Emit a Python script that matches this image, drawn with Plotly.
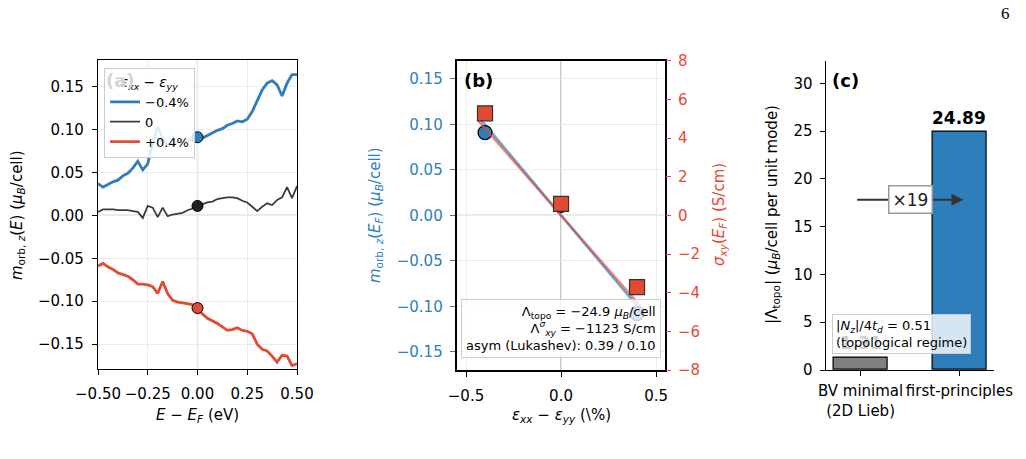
import plotly.graph_objects as go

# ---------------- data ----------------
energy = [-0.500, -0.475, -0.450, -0.425, -0.400, -0.375, -0.350, -0.325, -0.300, -0.275,
          -0.250, -0.225, -0.200, -0.175, -0.150, -0.125, -0.100, -0.075, -0.050, -0.025,
          0.000, 0.025, 0.050, 0.075, 0.100, 0.125, 0.150, 0.175, 0.200, 0.225,
          0.250, 0.275, 0.300, 0.325, 0.350, 0.375, 0.400, 0.425, 0.450, 0.475, 0.500]

m_minus04 = [0.037, 0.033, 0.036, 0.039, 0.041, 0.046, 0.049, 0.055, 0.063, 0.053,
             0.060, 0.084, 0.103, 0.090, 0.082, 0.083, 0.085, 0.086, 0.086, 0.088,
             0.091, 0.090, 0.093, 0.096, 0.099, 0.101, 0.105, 0.107, 0.110, 0.109,
             0.112, 0.121, 0.134, 0.146, 0.154, 0.157, 0.152, 0.139, 0.154, 0.164, 0.164]

m_zero = [0.004, 0.007, 0.007, 0.007, 0.006, 0.006, 0.006, 0.005, 0.004, -0.003,
          0.011, 0.009, -0.002, 0.009, -0.001, 0.001, 0.002, 0.003, 0.006, 0.008,
          0.011, 0.013, 0.015, 0.016, 0.019, 0.020, 0.021, 0.021, 0.020, 0.017,
          0.015, 0.010, 0.005, 0.010, 0.014, 0.012, 0.018, 0.021, 0.033, 0.020, 0.034]

m_plus04 = [-0.059, -0.056, -0.060, -0.063, -0.067, -0.069, -0.071, -0.075, -0.080, -0.080,
            -0.081, -0.083, -0.091, -0.077, -0.091, -0.099, -0.101, -0.102, -0.103, -0.104,
            -0.108, -0.115, -0.120, -0.123, -0.126, -0.130, -0.134, -0.133, -0.131, -0.134,
            -0.135, -0.138, -0.150, -0.156, -0.158, -0.164, -0.171, -0.163, -0.164, -0.175, -0.173]

strain_pct = [-0.4, 0.0, 0.4]
m_at_EF = [0.091, 0.011, -0.108]
sigma_at_EF = [5.28, 0.59, -3.71]
lambda_topo = -24.9      # muB/cell per unit strain
lambda_sigma = -1123.0   # S/cm per unit strain
fit_x = [-0.44, 0.44]

bar_labels = ["BV minimal<br>(2D Lieb)", "first-principles"]
bar_values = [1.31, 24.89]

# ---------------- style ----------------
BLUE = "#2E7EBC"
RED = "#E34A33"
DARK = "#3C3C3C"
FONT = "DejaVu Sans"
FS = 15
W, H = 1026, 459

def dom_x(a, b):
    return [a / W, b / W]

def dom_y(top, bot):
    return [1 - bot / H, 1 - top / H]

fig = go.Figure()

# ---------- panel (a) ----------
for name, vals, col, lw in [("\u22120.4%", m_minus04, BLUE, 2.8),
                            ("0", m_zero, DARK, 1.8),
                            ("+0.4%", m_plus04, RED, 2.8)]:
    fig.add_trace(go.Scatter(x=energy, y=vals, mode="lines", name=name,
                             line=dict(color=col, width=lw), xaxis="x", yaxis="y"))
for vals, col in [(m_minus04, BLUE), (m_zero, "#222222"), (m_plus04, RED)]:
    i0 = energy.index(0.0)
    fig.add_trace(go.Scatter(x=[energy[i0]], y=[vals[i0]], mode="markers", showlegend=False,
                             marker=dict(color=col, size=11, line=dict(color="black", width=1)),
                             xaxis="x", yaxis="y"))

# ---------- panel (b) ----------
fig.add_trace(go.Scatter(x=fit_x, y=[lambda_topo / 100 * v for v in fit_x], mode="lines",
                         line=dict(color="rgba(46,126,188,0.7)", width=2.6), showlegend=False,
                         xaxis="x2", yaxis="y2"))
fig.add_trace(go.Scatter(x=strain_pct, y=m_at_EF, mode="markers", showlegend=False,
                         marker=dict(color=BLUE, size=14, line=dict(color="black", width=1.2)),
                         xaxis="x2", yaxis="y2"))
fig.add_trace(go.Scatter(x=fit_x, y=[lambda_sigma / 100 * v for v in fit_x], mode="lines",
                         line=dict(color="rgba(227,74,51,0.65)", width=2.4), showlegend=False,
                         xaxis="x2", yaxis="y3"))
fig.add_trace(go.Scatter(x=strain_pct, y=sigma_at_EF, mode="markers", showlegend=False,
                         marker=dict(color=RED, size=15, symbol="square",
                                     line=dict(color="#333333", width=1.2)),
                         xaxis="x2", yaxis="y3"))

# ---------- panel (c) ----------
fig.add_trace(go.Bar(x=[0, 1], y=bar_values, width=0.55, showlegend=False,
                     marker=dict(color=["#808080", BLUE], line=dict(color="black", width=1.2)),
                     xaxis="x3", yaxis="y4"))

tickfont = dict(family=FONT, size=FS, color="black")
common = dict(showline=True, linecolor="black", ticks="outside", ticklen=5, tickwidth=1,
              tickcolor="black", zeroline=False, tickfont=tickfont, automargin=False)

xa = dict(domain=dom_x(98, 297), anchor="y", range=[-0.5, 0.5],
          tickvals=[-0.5, -0.25, 0, 0.25, 0.5], tickformat=".2f", ticklabelstandoff=6,
          mirror=True, linewidth=1.3, showgrid=True, gridcolor="#ebebeb", **common)
ya = dict(domain=dom_y(60, 369), anchor="x", range=[-0.179, 0.181],
          tickvals=[-0.15, -0.10, -0.05, 0, 0.05, 0.10, 0.15], tickformat=".2f",
          ticklabelstandoff=5,
          mirror=True, linewidth=1.3, showgrid=True, gridcolor="#ebebeb", **common)

xb = dict(domain=dom_x(456.7, 665), anchor="y2", range=[-0.549, 0.547],
          tickvals=[-0.5, 0, 0.5], tickformat=".1f", ticklabelstandoff=6,
          mirror=True, linewidth=2, showgrid=True, gridcolor="#ebebeb", **common)
common_b = dict(common)
common_b["tickfont"] = dict(family=FONT, size=FS, color=BLUE)
common_b["tickcolor"] = BLUE
yb = dict(domain=dom_y(60.7, 370), anchor="x2", range=[-0.17, 0.17],
          tickvals=[-0.15, -0.10, -0.05, 0, 0.05, 0.10, 0.15], tickformat=".2f",
          ticklabelstandoff=4,
          mirror=True, linewidth=2, showgrid=True, gridcolor="#ebebeb", **common_b)
yb2 = dict(overlaying="y2", side="right", anchor="x2", range=[-8, 8], dtick=2,
           showline=False, showgrid=False, zeroline=False, ticks="outside", ticklen=5,
           tickwidth=1, tickcolor=RED, tickfont=dict(family=FONT, size=FS, color=RED),
           ticklabelstandoff=4, automargin=False)

xc = dict(domain=dom_x(825.7, 994.3), anchor="y4", range=[-0.3525, 1.3525],
          tickvals=[0, 1], ticktext=bar_labels, tickangle=0, linewidth=1.3,
          ticklabelstandoff=2, showgrid=False, **common)
yc = dict(domain=dom_y(60.7, 370), anchor="x3", range=[0, 32.36], dtick=5,
          linewidth=1.3, showgrid=False, ticklabelstandoff=4, **common)

shapes = [
    dict(type="line", xref="x", yref="y domain", x0=0, x1=0, y0=0, y1=1,
         line=dict(color="#a8a8a8", width=1.2), layer="below"),
    dict(type="line", xref="x domain", yref="y", x0=0, x1=1, y0=0, y1=0,
         line=dict(color="#a8a8a8", width=1.2), layer="below"),
    dict(type="line", xref="x2", yref="y2 domain", x0=0, x1=0, y0=0, y1=1,
         line=dict(color="#b0b0b0", width=1.5), layer="below"),
    dict(type="line", xref="x2 domain", yref="y2", x0=0, x1=1, y0=0, y1=0,
         line=dict(color="#a8a8a8", width=1.2), layer="below"),
]

def title_ann(text, px, py, color="black", angle=0):
    return dict(text=text, xref="paper", yref="paper", x=px / W, y=1 - py / H,
                xanchor="center", yanchor="middle", showarrow=False, textangle=angle,
                font=dict(family=FONT, size=FS, color=color))

annotations = [
    # axis titles
    title_ann("<i>E</i> \u2212 <i>E<sub>F</sub></i> (eV)", 197.5, 415),
    title_ann("<i>m</i><sub>orb, <i>z</i></sub>(<i>E</i>) (<i>\u03bc<sub>B</sub></i>/cell)", 18, 215, angle=-90),
    title_ann("<i>\u03b5<sub>xx</sub></i> \u2212 <i>\u03b5<sub>yy</sub></i> (\\%)", 561, 415),
    title_ann("<i>m</i><sub>orb, <i>z</i></sub>(<i>E<sub>F</sub></i>) (<i>\u03bc<sub>B</sub></i>/cell)",
              376, 215, color=BLUE, angle=-90),
    title_ann("<i>\u03c3<sub>xy</sub></i>(<i>E<sub>F</sub></i>) (S/cm)", 720, 215, color=RED, angle=-90),
    title_ann("|\u039b<sub>topo</sub>| (<i>\u03bc<sub>B</sub></i>/cell per unit mode)", 773, 215, angle=-90),
    # panel labels
    dict(text="<b>(a)</b>", xref="x domain", yref="y domain", x=0.03, y=0.975,
         xanchor="left", yanchor="top", showarrow=False,
         font=dict(family=FONT, size=18, color="#d4d4d4")),
    dict(text="<b>(b)</b>", xref="x2 domain", yref="y2 domain", x=0.025, y=0.975,
         xanchor="left", yanchor="top", showarrow=False, font=dict(family=FONT, size=18)),
    dict(text="<b>(c)</b>", xref="x3 domain", yref="y4 domain", x=0.025, y=0.975,
         xanchor="left", yanchor="top", showarrow=False, font=dict(family=FONT, size=18)),
    dict(text=("\u039b<sub>topo</sub> = \u221224.9 <i>\u03bc<sub>B</sub></i>/cell<br>"
               "\u039b<sup><i>\u03c3</i></sup><sub><i>xy</i></sub> = \u22121123 S/cm<br>"
               "asym (Lukashev): 0.39 / 0.10"),
         xref="x2 domain", yref="y2 domain", x=0.98, y=0.04, xanchor="right", yanchor="bottom",
         align="right", showarrow=False, font=dict(family=FONT, size=13),
         bgcolor="rgba(255,255,255,0.8)", bordercolor="#cccccc", borderwidth=1, borderpad=4),
    dict(text="<b>%.2f</b>" % bar_values[0], x=0, y=bar_values[0], xref="x3", yref="y4",
         yanchor="bottom", yshift=2, showarrow=False, font=dict(family=FONT, size=17)),
    dict(text="<b>%.2f</b>" % bar_values[1], x=1, y=bar_values[1], xref="x3", yref="y4",
         yanchor="bottom", yshift=2, showarrow=False, font=dict(family=FONT, size=17)),
    dict(text="|<i>N<sub>z</sub></i>|/4<i>t<sub>d</sub></i> = 0.51<br>(topological regime)",
         xref="x3", yref="y4", x=-0.29, y=5.86, xanchor="left", yanchor="top", align="left",
         showarrow=False, font=dict(family=FONT, size=13),
         bgcolor="rgba(255,255,255,0.8)", bordercolor="#cccccc", borderwidth=1, borderpad=3),
    dict(text="", x=1.04, y=17.8, ax=-0.05, ay=17.8, xref="x3", yref="y4",
         axref="x3", ayref="y4", showarrow=True, arrowhead=2, arrowsize=1.2,
         arrowwidth=2, arrowcolor="#333333"),
    dict(text="\u00d719", x=0.5, y=17.8, xref="x3", yref="y4", showarrow=False,
         font=dict(family=FONT, size=17, color="#222222"),
         bgcolor="white", bordercolor="#999999", borderwidth=1.5, borderpad=3),
    dict(text="6", xref="paper", yref="paper", x=1005 / W, y=1 - 14 / H, showarrow=False,
         xanchor="center", yanchor="middle",
         font=dict(family="Liberation Serif", size=17, color="black")),
]

fig.update_layout(
    width=W, height=H, margin=dict(l=0, r=0, t=0, b=0, autoexpand=False),
    paper_bgcolor="white", plot_bgcolor="white",
    font=dict(family=FONT, size=FS, color="black"),
    xaxis=xa, yaxis=ya, xaxis2=xb, yaxis2=yb, yaxis3=yb2, xaxis3=xc, yaxis4=yc,
    shapes=shapes, annotations=annotations,
    legend=dict(x=104 / W, y=1 - 68.3 / H, xanchor="left", yanchor="top",
                bgcolor="rgba(255,255,255,0.85)", bordercolor="#cccccc", borderwidth=1,
                font=dict(family=FONT, size=13),
                title=dict(text="<i>\u03b5<sub>xx</sub></i> \u2212 <i>\u03b5<sub>yy</sub></i>",
                           font=dict(family=FONT, size=13.5), side="top center"),
                itemwidth=30, tracegroupgap=0),
    showlegend=True, bargap=0,
)

fig.write_html("out.html", config={"displayModeBar": False})
